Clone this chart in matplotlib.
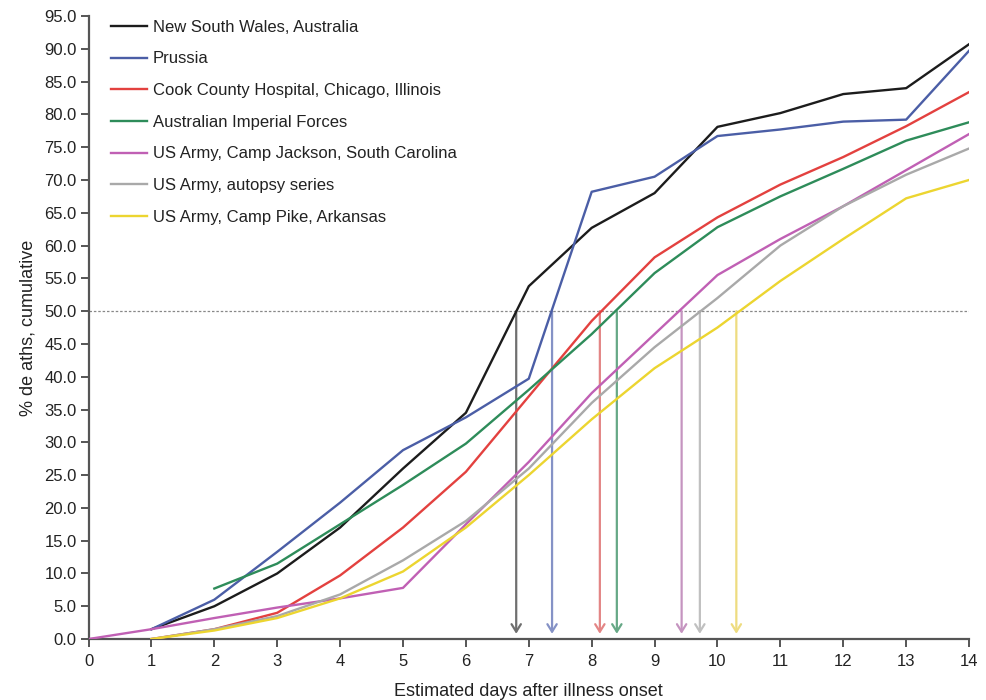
import matplotlib
matplotlib.use("Agg")
import matplotlib.pyplot as plt

plt.rcParams['font.family'] = ['Liberation Sans', 'DejaVu Sans']

labels = [
    "New South Wales, Australia",
    "Prussia",
    "Cook County Hospital, Chicago, Illinois",
    "Australian Imperial Forces",
    "US Army, Camp Jackson, South Carolina",
    "US Army, autopsy series",
    "US Army, Camp Pike, Arkansas",
]
colors = ["#1c1c1c", "#4b5ea6", "#e3413f", "#2e8c5a", "#c060b4", "#a9a9a9", "#ecd530"]
arrow_colors = ["#6f6f6f", "#8592c6", "#e38585", "#66a886", "#c594c0", "#c0c0c0", "#eedc80"]

nsw_days = [1, 2, 3, 4, 5, 6, 7, 8, 9, 10, 11, 12, 13, 14]
nsw_vals = [1.5, 5.0, 10.0, 17.0, 26.0, 34.5, 53.8, 62.7, 68.0, 78.1, 80.2, 83.1, 84.0, 90.7]

prussia_days = [1, 2, 3, 4, 5, 6, 7, 8, 9, 10, 11, 12, 13, 14]
prussia_vals = [1.5, 6.0, 13.3, 20.8, 28.8, 33.8, 39.7, 68.2, 70.5, 76.7, 77.7, 78.9, 79.2, 89.7]

cook_days = [1, 2, 3, 4, 5, 6, 7, 8, 9, 10, 11, 12, 13, 14]
cook_vals = [0.0, 1.5, 4.0, 9.7, 17.0, 25.5, 37.0, 48.5, 58.2, 64.3, 69.3, 73.5, 78.2, 83.4]

aif_days = [2, 3, 4, 5, 6, 7, 8, 9, 10, 11, 12, 13, 14]
aif_vals = [7.7, 11.5, 17.5, 23.5, 29.8, 38.0, 46.5, 55.8, 62.8, 67.5, 71.7, 76.0, 78.8]

jackson_days = [0, 1, 2, 3, 4, 5, 6, 7, 8, 9, 10, 11, 12, 13, 14]
jackson_vals = [0.0, 1.5, 3.2, 4.8, 6.2, 7.8, 17.5, 27.0, 37.5, 46.5, 55.5, 61.0, 66.0, 71.5, 77.0]

autopsy_days = [1, 2, 3, 4, 5, 6, 7, 8, 9, 10, 11, 12, 13, 14]
autopsy_vals = [0.0, 1.5, 3.5, 6.8, 12.0, 18.0, 26.0, 36.0, 44.5, 52.0, 60.0, 66.0, 70.8, 74.8]

pike_days = [1, 2, 3, 4, 5, 6, 7, 8, 9, 10, 11, 12, 13, 14]
pike_vals = [0.0, 1.3, 3.2, 6.2, 10.3, 17.0, 25.0, 33.5, 41.3, 47.5, 54.6, 61.0, 67.2, 70.0]

half_days = [6.80, 7.37, 8.13, 8.40, 9.43, 9.72, 10.30]

series = [
    (nsw_days, nsw_vals), (prussia_days, prussia_vals), (cook_days, cook_vals),
    (aif_days, aif_vals), (jackson_days, jackson_vals), (autopsy_days, autopsy_vals),
    (pike_days, pike_vals),
]

fig = plt.figure(figsize=(9.86, 7.0), dpi=100)
ax = fig.add_axes([0.0898, 0.0871, 0.893, 0.890])

ax.axhline(50, color="#888888", lw=0.9, ls=(0, (2, 1.5)), zorder=1)

for hd, ac in zip(half_days, arrow_colors):
    ax.annotate("", xy=(hd, 0.8), xytext=(hd, 50),
                arrowprops=dict(arrowstyle="->,head_length=0.45,head_width=0.28",
                                color=ac, lw=1.6, mutation_scale=12,
                                shrinkA=0, shrinkB=0),
                zorder=2)

for (d, v), lab, c in zip(series, labels, colors):
    ax.plot(d, v, color=c, lw=1.7, label=lab, zorder=3)

ax.set_xlim(0, 14)
ax.set_ylim(0, 95)
ax.set_xticks(range(0, 15))
ax.set_yticks([i * 5 for i in range(20)])
ax.set_yticklabels([f"{i * 5:.1f}" for i in range(20)])

for s in ["top", "right"]:
    ax.spines[s].set_visible(False)
for s in ["left", "bottom"]:
    ax.spines[s].set_color("#555555")
    ax.spines[s].set_linewidth(1.6)
ax.tick_params(axis="both", direction="out", length=5.5, width=1.4, color="#555555",
               labelsize=12, labelcolor="#222222")
ax.tick_params(axis="y", pad=3)
ax.tick_params(axis="x", pad=5)

ax.set_xlabel("Estimated days after illness onset", fontsize=13, color="#222222", labelpad=10)
ax.set_ylabel("% de aths, cumulative", fontsize=13, color="#222222", labelpad=6)

leg = ax.legend(loc="upper left", bbox_to_anchor=(0.008, 1.018), frameon=False,
                fontsize=12, handlelength=2.2, labelspacing=1.0, handletextpad=0.35)
for t in leg.get_texts():
    t.set_color("#222222")

fig.savefig("out.png", dpi=100)
